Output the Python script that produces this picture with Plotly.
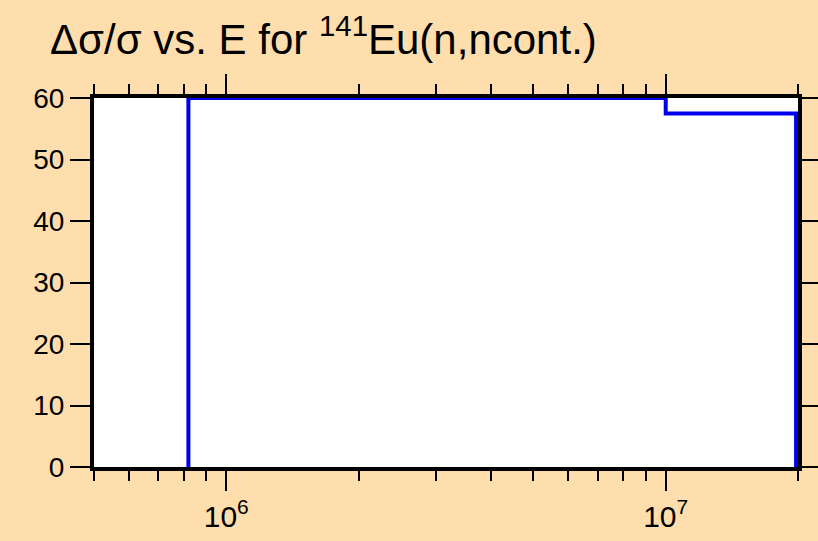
import plotly.graph_objects as go

# Data (step edges in eV, relative uncertainty in %)
energy = [8.2e5, 8.2e5, 1.0e7, 1.98e7, 1.98e7]
rel_unc = [0.0, 60.0, 57.5, 57.5, 0.0]
x_tickvals = [1e6, 1e7]
x_ticktext = ["10<sup>6</sup>", "10<sup>7</sup>"]
y_tickvals = [0, 10, 20, 30, 40, 50, 60]

bg = "#FFDEAD"
font_family = "Liberation Sans, Arial, sans-serif"

fig = go.Figure()
fig.add_trace(go.Scatter(
    x=energy, y=rel_unc, mode="lines", line_shape="hv",
    line=dict(color="#0000EE", width=4), showlegend=False,
))

fig.update_layout(
    width=818, height=541,
    paper_bgcolor=bg, plot_bgcolor="white",
    margin=dict(l=94, r=20, t=98, b=74, autoexpand=False),
    font=dict(family=font_family, color="black"),
    title=dict(
        text="\u0394\u03c3/\u03c3 vs. E for <sup>141</sup>Eu(n,ncont.)",
        x=50/818, xanchor="left", xref="container",
        y=1 - 39/541, yanchor="middle", yref="container",
        font=dict(size=42, family=font_family, color="black"),
    ),
)

fig.update_xaxes(
    type="log", range=[5.69897, 7.30103], automargin=False,
    tickvals=x_tickvals, ticktext=x_ticktext,
    ticks="outside", ticklen=20, tickwidth=2, tickcolor="black",
    minor=dict(ticks="outside", ticklen=10, tickwidth=2, tickcolor="black", dtick="D1"),
    showline=True, linecolor="black", linewidth=4, mirror="ticks",
    showgrid=False, zeroline=False,
    tickfont=dict(size=30, family=font_family, color="black"),
)
fig.update_yaxes(
    range=[0, 60], tickvals=y_tickvals, automargin=False,
    ticks="outside", ticklen=20, tickwidth=2, tickcolor="black",
    showline=True, linecolor="black", linewidth=4, mirror="ticks",
    showgrid=False, zeroline=False,
    tickfont=dict(size=28, family=font_family, color="black"),
)

fig.write_html("out.html", config={"displayModeBar": False},
               post_script="document.body.style.margin='0px';")
